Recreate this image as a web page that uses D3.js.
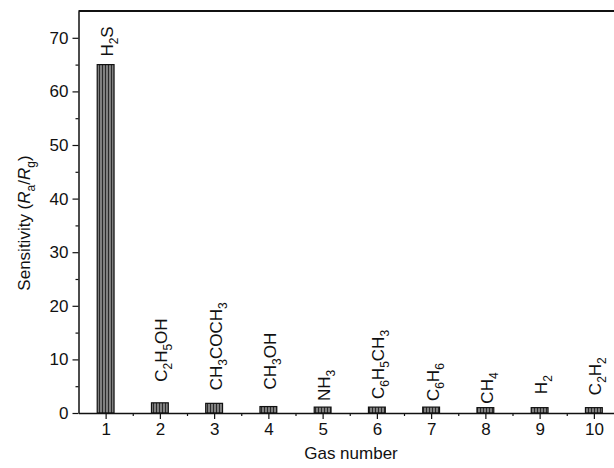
<!DOCTYPE html>
<html>
<head>
<meta charset="utf-8">
<script src="https://cdn.jsdelivr.net/npm/d3@7/dist/d3.min.js"></script>
<style>
  body { margin: 0; background: #fff; }
  svg { display: block; font-family: "Liberation Sans", Arial, sans-serif; }
</style>
</head>
<body>
<svg id="chart" width="614" height="468"></svg>
<script>
// Gas numbers and response of the sensor to each test gas
const gasNumbers = [1, 2, 3, 4, 5, 6, 7, 8, 9, 10];
const sensitivity = [65, 1.9, 1.8, 1.2, 1.1, 1.1, 1.1, 1.0, 1.0, 1.0];
// Chemical formulas: each part is [text, isSubscript]
const gasFormulas = [
  [["H", 0], ["2", 1], ["S", 0]],
  [["C", 0], ["2", 1], ["H", 0], ["5", 1], ["OH", 0]],
  [["CH", 0], ["3", 1], ["COCH", 0], ["3", 1]],
  [["CH", 0], ["3", 1], ["OH", 0]],
  [["NH", 0], ["3", 1]],
  [["C", 0], ["6", 1], ["H", 0], ["5", 1], ["CH", 0], ["3", 1]],
  [["C", 0], ["6", 1], ["H", 0], ["6", 1]],
  [["CH", 0], ["4", 1]],
  [["H", 0], ["2", 1]],
  [["C", 0], ["2", 1], ["H", 0], ["2", 1]]
];
const yTicks = [0, 10, 20, 30, 40, 50, 60, 70];

// layout: pixel gap between each bar top and the start of its label
const labelGap = [8, 21, 13, 17, 6, 8, 6, 4, 13.5, 12.5];

const svg = d3.select("#chart");
const margin = { left: 78.5, top: 11, bottom: 413 };
const plotRight = 621;
const fs = 17;

const x = d3.scaleLinear().domain([0.5, 10.5]).range([margin.left, plotRight]);
const y = d3.scaleLinear().domain([0, 75]).range([margin.bottom, margin.top]);

// striped fill for the bars
const defs = svg.append("defs");
const pat = defs.append("pattern")
  .attr("id", "stripes").attr("patternUnits", "userSpaceOnUse")
  .attr("width", 3).attr("height", 4);
pat.append("rect").attr("width", 3).attr("height", 4).attr("fill", "#808080");
pat.append("rect").attr("x", 0).attr("width", 1).attr("height", 4).attr("fill", "#2a2a2a");

const barW = x(1.31) - x(1);
const bars = svg.append("g");
bars.selectAll("rect").data(gasNumbers).join("rect")
  .attr("x", d => x(d) - barW / 2)
  .attr("y", (d, i) => y(sensitivity[i]))
  .attr("width", barW)
  .attr("height", (d, i) => y(0) - y(sensitivity[i]))
  .attr("fill", "url(#stripes)")
  .attr("stroke", "#111").attr("stroke-width", 1.2);

// rotated formula labels above the bars
const labels = svg.append("g").attr("font-size", fs).attr("fill", "#111");
gasNumbers.forEach((d, i) => {
  const t = labels.append("text")
    .attr("transform", `translate(${x(d) + 7.5},${y(sensitivity[i]) - labelGap[i]}) rotate(-90)`);
  let prevSub = false;
  gasFormulas[i].forEach(([s, sub]) => {
    const ts = t.append("tspan").text(s);
    if (sub) { ts.attr("font-size", 12).attr("dy", prevSub ? 0 : 5); }
    else if (prevSub) { ts.attr("dy", -5); }
    prevSub = !!sub;
  });
});

// y axis
const yAxis = d3.axisLeft(y).tickValues(yTicks).tickSize(6).tickPadding(4).tickSizeOuter(0);
const gy = svg.append("g").attr("transform", `translate(${margin.left},0)`).call(yAxis);
gy.selectAll(".tick text").attr("font-size", fs).attr("fill", "#111");
gy.select(".domain").attr("stroke", "#111").attr("stroke-width", 1.5);
gy.selectAll(".tick line").attr("stroke", "#111").attr("stroke-width", 1.2);
svg.append("g").attr("transform", `translate(${margin.left},0)`)
  .call(d3.axisLeft(y).tickValues(d3.range(5, 75, 10)).tickSize(3).tickFormat(""))
  .call(g => g.select(".domain").remove())
  .selectAll("line").attr("stroke", "#111").attr("stroke-width", 1.2);

// x axis
const xAxis = d3.axisBottom(x).tickValues(gasNumbers).tickSize(6).tickPadding(4).tickSizeOuter(0);
const gx = svg.append("g").attr("transform", `translate(0,${margin.bottom})`).call(xAxis);
gx.selectAll(".tick text").attr("font-size", fs).attr("fill", "#111");
gx.select(".domain").attr("stroke", "#111").attr("stroke-width", 1.5);
gx.selectAll(".tick line").attr("stroke", "#111").attr("stroke-width", 1.2);
svg.append("g").attr("transform", `translate(0,${margin.bottom})`)
  .call(d3.axisBottom(x).tickValues(d3.range(1.5, 10.6, 1)).tickSize(3).tickFormat(""))
  .call(g => g.select(".domain").remove())
  .selectAll("line").attr("stroke", "#111").attr("stroke-width", 1.2);

// top frame line
svg.append("line")
  .attr("x1", margin.left).attr("x2", plotRight)
  .attr("y1", margin.top).attr("y2", margin.top)
  .attr("stroke", "#111").attr("stroke-width", 2);

// axis titles
svg.append("text")
  .attr("x", 351).attr("y", 459)
  .attr("text-anchor", "middle").attr("font-size", fs).attr("fill", "#111")
  .text("Gas number");

const yt = svg.append("text")
  .attr("transform", `translate(30,223) rotate(-90)`)
  .attr("text-anchor", "middle").attr("font-size", fs).attr("fill", "#111");
yt.append("tspan").text("Sensitivity (");
yt.append("tspan").attr("font-style", "italic").text("R");
yt.append("tspan").attr("font-size", 12).attr("dy", 5).text("a");
yt.append("tspan").attr("dy", -5).text("/");
yt.append("tspan").attr("font-style", "italic").text("R");
yt.append("tspan").attr("font-size", 12).attr("dy", 5).text("g");
yt.append("tspan").attr("dy", -5).text(")");
</script>
</body>
</html>
